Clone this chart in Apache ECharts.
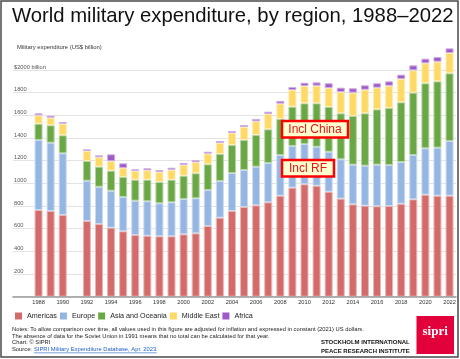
<!DOCTYPE html>
<html>
<head>
<meta charset="utf-8">
<script src="https://cdn.jsdelivr.net/npm/echarts@6/dist/echarts.min.js"></script>
<style>
html,body{margin:0;padding:0;background:#fff;}
#c{width:460px;height:359px;}
</style>
</head>
<body>
<div id="c"></div>
<script>
const years = ['1988','1989','1990','1991','1992','1993','1994','1995','1996','1997','1998','1999','2000','2001','2002','2003','2004','2005','2006','2007','2008','2009','2010','2011','2012','2013','2014','2015','2016','2017','2018','2019','2020','2021','2022'];
const americas = [765,756,721,null,668,641,609,577,544,538,533,533,550,559,624,697,756,791,806,833,891,962,992,979,926,865,815,803,798,800,820,859,900,891,891];
const europe = [618,603,544,null,355,329,326,303,303,304,291,300,312,309,317,324,335,327,341,347,359,368,355,344,353,347,350,353,367,362,368,391,409,424,483];
const asiaOceania = [143,153,159,null,174,177,177,176,185,190,188,199,205,221,227,238,247,264,280,297,318,346,359,383,395,406,429,462,488,503,527,550,574,585,597];
const middleEast = [74,67,102,null,88,83,83,79,77,83,88,88,95,97,94,97,106,115,120,135,135,148,153,155,167,188,206,208,191,196,206,197,176,173,179];
const africa = [18,18,15,null,15,17,61,42,15,18,18,18,18,18,17,18,18,18,21,20,24,26,29,30,42,38,39,39,39,39,38,44,41,42,41];
const seriesNames = ['Americas','Europe','Asia and Oceania','Middle East','Africa'];

const colors = ['#d46b6b','#95b6e2','#6aa846','#ffd966','#9e5ac8'];
const borders = ['#eab5b5','#cadaf0','#b4d3a2','#ffecb2','#cfade3'];
const FONT = 'Liberation Sans, Arial, sans-serif';

// pixel geometry
const y0 = 296.7, pxPer = 0.11335;
const barMax = 2400;
const barTop = y0 - barMax * pxPer;
const H = 359;

const chart = echarts.init(document.getElementById('c'));
const dataSets = [americas, europe, asiaOceania, middleEast, africa];

const series = dataSets.map((d, i) => ({
  name: seriesNames[i],
  type: 'bar',
  stack: 'total',
  xAxisIndex: 0,
  yAxisIndex: 0,
  barWidth: 8,
  data: d,
  itemStyle: { color: colors[i], borderColor: borders[i], borderWidth: 1 },
  emphasis: { disabled: true },
  z: 3
}));

chart.setOption({
  animation: false,
  backgroundColor: '#fff',
  textStyle: { fontFamily: FONT },
  title: [
    { text: 'World military expenditure, by region, 1988\u20132022', left: 7, top: 1.5,
      textStyle: { fontSize: 20.3, fontWeight: 'normal', color: '#111', fontFamily: FONT } },
    { text: 'Military expenditure (US$ billion)', left: 12, top: 39,
      textStyle: { fontSize: 5.9, fontWeight: 'normal', color: '#333', fontFamily: FONT } }
  ],
  legend: {
    data: seriesNames,
    left: 15, top: 312.5, padding: 0,
    icon: 'rect', itemWidth: 7, itemHeight: 7, itemGap: 3,
    itemStyle: { borderWidth: 0 },
    textStyle: { fontSize: 7.2, color: '#222', fontFamily: FONT },
    selectedMode: false
  },
  grid: [
    { left: 32.5, right: 4.4, top: barTop, bottom: H - y0, containLabel: false },
    { left: 13, right: 4, top: y0 - 2000 * pxPer, bottom: H - y0, containLabel: false }
  ],
  xAxis: [
    { type: 'category', gridIndex: 0, data: years,
      axisLine: { show: false }, axisTick: { show: false },
      axisLabel: { interval: 1, fontSize: 5.7, color: '#333', margin: 3, fontFamily: FONT } },
    { type: 'value', gridIndex: 1, min: 0, max: 1,
      axisLine: { show: true, lineStyle: { color: '#9a9a9a', width: 1.6 } },
      axisTick: { show: false }, axisLabel: { show: false }, splitLine: { show: false }, z: 4 }
  ],
  yAxis: [
    { type: 'value', gridIndex: 0, min: 0, max: barMax,
      axisLine: { show: false }, axisTick: { show: false }, axisLabel: { show: false }, splitLine: { show: false } },
    { type: 'value', gridIndex: 1, min: 0, max: 2000, interval: 200,
      axisLine: { show: false }, axisTick: { show: false },
      splitLine: { show: true, lineStyle: { color: '#e3e3e3', width: 1.2 } },
      axisLabel: { inside: true, margin: 1, fontSize: 5.7, color: '#555', verticalAlign: 'bottom', fontFamily: FONT,
        formatter: v => v === 0 ? '' : (v === 2000 ? '$2000 billion' : String(v)) } }
  ],
  series: series,
  graphic: [
    { type: 'rect', shape: { x: 1, y: 1, width: 457, height: 356 }, style: { fill: 'none', stroke: '#4a4a4a', lineWidth: 1.5 }, z: 100 },
    // annotation boxes
    { type: 'rect', shape: { x: 282, y: 121, width: 66, height: 16.5 }, style: { fill: '#ffffcf', stroke: '#ff0000', lineWidth: 2.5 }, z: 50 },
    { type: 'text', x: 315, y: 129.6, style: { text: 'Incl China', font: '12px ' + FONT, fill: '#e8141b', align: 'center', verticalAlign: 'middle', textAlign: 'center', textVerticalAlign: 'middle' }, z: 51 },
    { type: 'rect', shape: { x: 282, y: 160, width: 52, height: 16.5 }, style: { fill: '#ffffcf', stroke: '#ff0000', lineWidth: 2.5 }, z: 50 },
    { type: 'text', x: 308, y: 168.6, style: { text: 'Incl RF', font: '12px ' + FONT, fill: '#e8141b', align: 'center', verticalAlign: 'middle', textAlign: 'center', textVerticalAlign: 'middle' }, z: 51 },
    // notes
    { type: 'text', x: 12, y: 329.3, style: { text: 'Notes: To allow comparison over time, all values used in this figure are adjusted for inflation and expressed in constant (2021) US dollars.', font: '5.8px ' + FONT, fill: '#222', verticalAlign: 'middle', textVerticalAlign: 'middle' } },
    { type: 'text', x: 12, y: 336, style: { text: 'The absence of data for the Soviet Union in 1991 means that no total can be calculated for that year.', font: '5.8px ' + FONT, fill: '#222', verticalAlign: 'middle', textVerticalAlign: 'middle' } },
    { type: 'text', x: 12, y: 342.7, style: { text: 'Chart: \u00a9 SIPRI', font: '5.8px ' + FONT, fill: '#222', verticalAlign: 'middle', textVerticalAlign: 'middle' } },
    { type: 'text', x: 12, y: 349.5, style: { text: 'Source: ', font: '5.8px ' + FONT, fill: '#222', verticalAlign: 'middle', textVerticalAlign: 'middle' } },
    { type: 'text', x: 34, y: 349.5, style: { text: 'SIPRI Military Expenditure Database, Apr. 2023.', font: '5.8px ' + FONT, fill: '#1f5fc8', verticalAlign: 'middle', textVerticalAlign: 'middle' } },
    { type: 'line', shape: { x1: 34, y1: 352.8, x2: 156.7, y2: 352.8 }, style: { stroke: '#1f5fc8', lineWidth: 0.6 } },
    // SIPRI block
    { type: 'text', x: 321, y: 342.7, style: { text: 'STOCKHOLM INTERNATIONAL', font: 'bold 6px ' + FONT, fill: '#111', verticalAlign: 'middle', textVerticalAlign: 'middle' } },
    { type: 'text', x: 321, y: 351.3, style: { text: 'PEACE RESEARCH INSTITUTE', font: 'bold 6px ' + FONT, fill: '#111', verticalAlign: 'middle', textVerticalAlign: 'middle' } },
    { type: 'rect', shape: { x: 416.5, y: 316, width: 37.5, height: 38 }, style: { fill: '#e2013b' } },
    { type: 'text', x: 435.2, y: 332, style: { text: 'sipri', font: 'bold 13px Liberation Serif, serif', fill: '#fff', align: 'center', verticalAlign: 'middle', textAlign: 'center', textVerticalAlign: 'middle' } }
  ]
});
</script>
</body>
</html>
